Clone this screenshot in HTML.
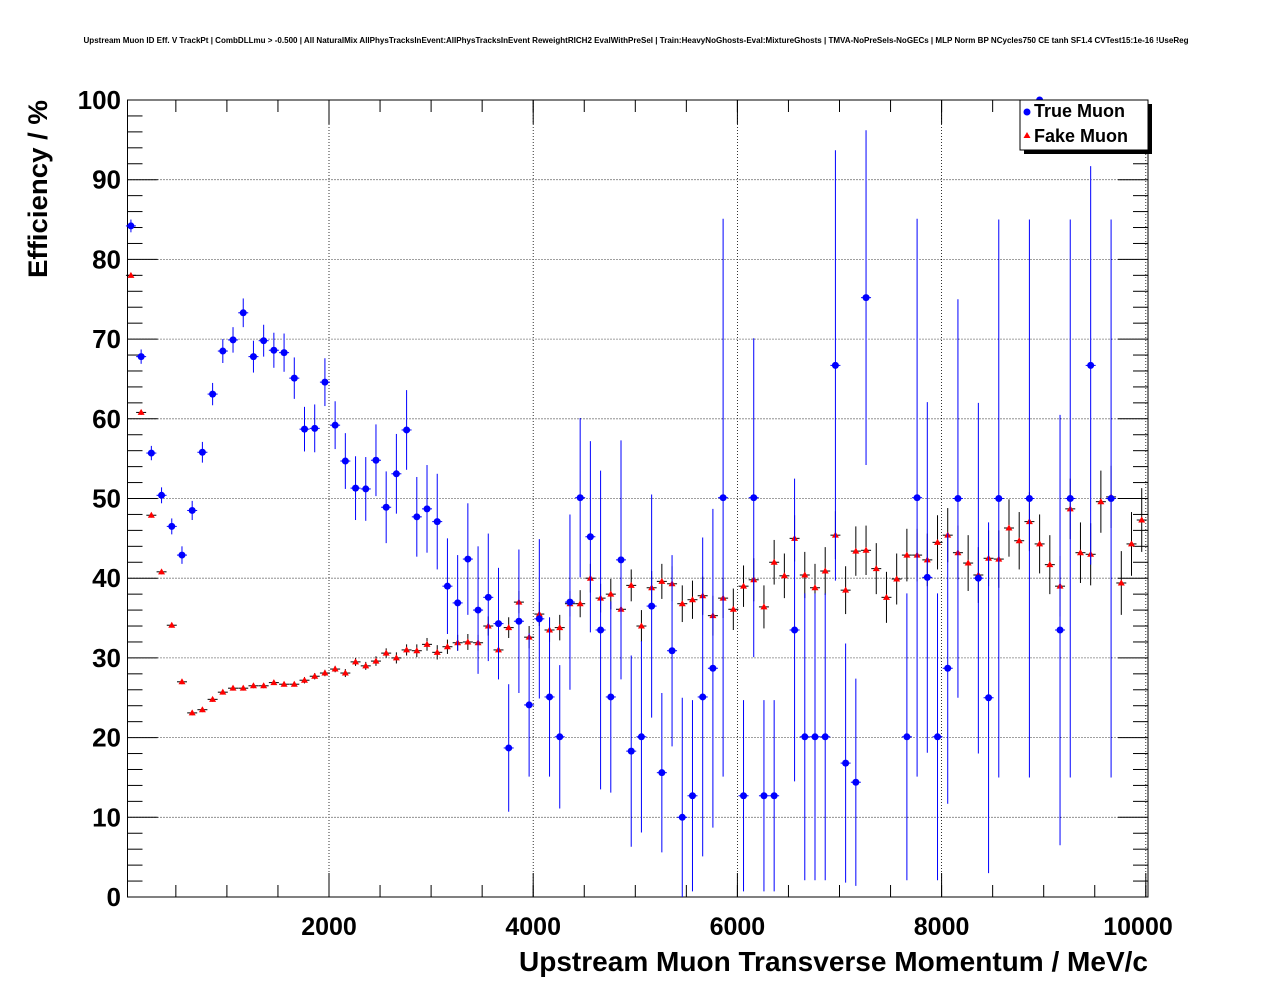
<!DOCTYPE html>
<html><head><meta charset="utf-8"><style>
body{margin:0;background:#fff;}
svg{display:block;font-family:"Liberation Sans",sans-serif;}
</style></head><body>
<svg id="c" width="1276" height="996">
<text x="636" y="43" font-size="8" font-weight="bold" text-anchor="middle" textLength="1105" lengthAdjust="spacingAndGlyphs">Upstream Muon ID Eff. V TrackPt | CombDLLmu &gt; -0.500 | All NaturalMix AllPhysTracksInEvent:AllPhysTracksInEvent ReweightRICH2 EvalWithPreSel | Train:HeavyNoGhosts-Eval:MixtureGhosts | TMVA-NoPreSels-NoGECs | MLP Norm BP NCycles750 CE tanh SF1.4 CVTest15:1e-16 !UseReg</text>
<g id="grid"></g>
<g id="axes"></g>
<g id="series"></g>
<text x="1148" y="971" font-size="28" font-weight="bold" text-anchor="end" textLength="629" lengthAdjust="spacingAndGlyphs">Upstream Muon Transverse Momentum / MeV/c</text>
<text transform="translate(47,278) rotate(-90)" font-size="27" font-weight="bold" textLength="178" lengthAdjust="spacingAndGlyphs">Efficiency / %</text>
<g>
<rect x="1024" y="104" width="128" height="50" fill="#000"/>
<rect x="1020" y="100" width="128" height="50" fill="#fff" stroke="#000" stroke-width="1"/>
<circle cx="1027" cy="112" r="3.5" fill="#00f"/>
<text x="1034" y="117" font-size="18" font-weight="bold">True Muon</text>
<polygon points="1027,132 1030.5,138 1023.5,138" fill="#f00"/>
<text x="1034" y="142" font-size="18" font-weight="bold">Fake Muon</text>
</g>
</svg>
<script>
const xTicks=[2000,4000,6000,8000,10000];
const xTickLabels=["2000","4000","6000","8000","10000"];
const yTicks=[0,10,20,30,40,50,60,70,80,90,100];
const yTickLabels=["0","10","20","30","40","50","60","70","80","90","100"];
const trueBins=[1,2,3,4,5,6,7,8,9,10,11,12,13,14,15,16,17,18,19,20,21,22,23,24,25,26,27,28,29,30,31,32,33,34,35,36,37,38,39,40,41,42,43,44,45,46,47,48,49,50,51,52,53,54,55,56,57,58,59,61,62,63,64,66,67,68,69,70,71,72,73,77,78,79,80,81,82,84,85,86,89,90,92,93,95,97];
const trueEff=[84.2,67.8,55.7,50.4,46.5,42.9,48.5,55.8,63.1,68.5,69.9,73.3,67.8,69.8,68.6,68.3,65.1,58.7,58.8,64.6,59.2,54.7,51.3,51.2,54.8,48.9,53.1,58.6,47.7,48.7,47.1,39.0,36.9,42.4,36.0,37.6,34.3,18.7,34.6,24.1,34.9,25.1,20.1,37.0,50.1,45.2,33.5,25.1,42.3,18.3,20.1,36.5,15.6,30.9,10.0,12.7,25.1,28.7,50.1,12.7,50.1,12.7,12.7,33.5,20.1,20.1,20.1,66.7,16.8,14.4,75.2,20.1,50.1,40.1,20.1,28.7,50,40,25,50,50,100,33.5,50,66.7,50];
const trueErr=[0.8,0.9,0.9,1,1,1.1,1.2,1.3,1.4,1.5,1.6,1.8,2,2,2.2,2.4,2.6,2.8,3,3,3,3.5,4,4,4.5,4.5,5,5,5,5.5,6,6,6,7,8,8,7,8,9,9,10,10,9,11,10,12,20,12,15,12,12,14,10,12,15,12,20,20,35,12,20,12,12,19,18,18,18,27,15,13,21,18,35,22,18,17,25,22,22,35,35,0,27,35,25,35];
const fakeEff=[78,60.8,47.9,40.8,34.1,27.0,23.1,23.5,24.8,25.7,26.2,26.2,26.5,26.5,26.9,26.7,26.7,27.2,27.7,28.1,28.6,28.1,29.5,29.0,29.6,30.6,30.0,31.0,30.9,31.7,30.7,31.4,31.9,32.0,31.9,34.0,31.0,33.8,37.0,32.6,35.5,33.5,33.8,36.8,36.8,40.0,37.5,38.0,36.1,39.1,34.0,38.8,39.6,39.3,36.8,37.3,37.8,35.3,37.5,36.1,39.0,39.8,36.4,42.0,40.3,45.0,40.4,38.8,40.9,45.4,38.5,43.4,43.5,41.2,37.6,39.9,42.9,42.9,42.3,44.5,45.4,43.2,41.9,40.4,42.5,42.4,46.3,44.7,47.1,44.3,41.7,39.0,48.7,43.2,43.0,49.6,50.2,39.4,44.3,47.3];
const fakeErr=[0.3,0.3,0.3,0.3,0.3,0.3,0.3,0.3,0.3,0.3,0.3,0.3,0.3,0.3,0.3,0.3,0.3,0.4,0.4,0.4,0.4,0.5,0.5,0.5,0.6,0.6,0.7,0.7,0.8,0.8,0.9,0.9,1,1,1,1.2,1.2,1.3,1.4,1.4,1.5,1.5,1.6,1.6,1.7,1.8,1.8,1.9,2,2,2,2.1,2.2,2.2,2.3,2.4,2.4,2.5,2.5,2.6,2.6,2.7,2.7,2.8,2.8,2.9,2.9,3,3,3,3,3.1,3.1,3.2,3.2,3.2,3.3,3.3,3.3,3.4,3.4,3.4,3.5,3.5,3.5,3.6,3.6,3.6,3.7,3.7,3.7,3.8,3.8,3.8,3.9,3.9,3.9,4,4,4];
const L=127.5,R=1148,T=100,B=897;
const X=v=>329+(v-2000)*0.1021;
const Y=v=>B-(v/100)*(B-T);
const binX=k=>100*k-40;
const NS="http://www.w3.org/2000/svg";
function mk(tag,attrs,parent){const e=document.createElementNS(NS,tag);for(const a in attrs)e.setAttribute(a,attrs[a]);parent.appendChild(e);return e;}
const grid=document.getElementById('grid'),axes=document.getElementById('axes'),ser=document.getElementById('series');
mk('rect',{x:L,y:T,width:R-L,height:B-T,fill:'none',stroke:'#000','stroke-width':1},axes);
xTicks.forEach((t,i)=>{const x=X(t);
 if(x<R-2){const g=mk('line',{x1:x,x2:x,y1:T,y2:B,stroke:'#000','stroke-width':0.8,'stroke-dasharray':'1,2'},grid);}
 mk('line',{x1:x,x2:x,y1:B,y2:B-24,stroke:'#000'},axes);mk('line',{x1:x,x2:x,y1:T,y2:T+24,stroke:'#000'},axes);
 const tx=mk('text',{x:Math.min(x,1138),y:935,'font-size':25,'font-weight':'bold','text-anchor':'middle'},axes);tx.textContent=xTickLabels[i];
 });
for(let v=500;v<10100;v+=500){const x=X(v);if(x>L&&x<R){mk('line',{x1:x,x2:x,y1:B,y2:B-12,stroke:'#000'},axes);mk('line',{x1:x,x2:x,y1:T,y2:T+12,stroke:'#000'},axes);}}
yTicks.forEach((t,i)=>{const y=Y(t);
 if(t>0&&t<100){const g=mk('line',{x1:L,x2:R,y1:y,y2:y,stroke:'#000','stroke-width':0.8,'stroke-dasharray':'1,2'},grid);}
 mk('line',{x1:L,x2:L+30,y1:y,y2:y,stroke:'#000'},axes);mk('line',{x1:R,x2:R-30,y1:y,y2:y,stroke:'#000'},axes);
 const tx=mk('text',{x:121,y:y+9,'font-size':26,'font-weight':'bold','text-anchor':'end'},axes);tx.textContent=yTickLabels[i];
 });
for(let v=2;v<100;v+=2){if(v%10){const y=Y(v);mk('line',{x1:L,x2:L+15,y1:y,y2:y,stroke:'#000'},axes);mk('line',{x1:R,x2:R-15,y1:y,y2:y,stroke:'#000'},axes);}}
fakeEff.forEach((v,i)=>{const x=X(binX(i+1)),y=Y(v),e=fakeErr[i];
 const g=mk('g',{},ser);
 mk('line',{x1:x,x2:x,y1:Y(Math.min(100,v+e)),y2:Y(Math.max(0,v-e)),stroke:'#000'},g);
 mk('line',{x1:x-5,x2:x+5,y1:y,y2:y,stroke:'#000'},g);
 mk('polygon',{points:`${x},${y-3.5} ${x+3.5},${y+2.5} ${x-3.5},${y+2.5}`,fill:'#f00'},g);});
trueEff.forEach((v,i)=>{const x=X(binX(trueBins[i])),y=Y(v),e=trueErr[i];
 const g=mk('g',{},ser);
 mk('line',{x1:x,x2:x,y1:Y(Math.min(100,v+e)),y2:Y(Math.max(0,v-e)),stroke:'#00f'},g);
 mk('line',{x1:x-5,x2:x+5,y1:y,y2:y,stroke:'#00f'},g);
 mk('circle',{cx:x,cy:y,r:3.5,fill:'#00f'},g);});
</script>
</body></html>
